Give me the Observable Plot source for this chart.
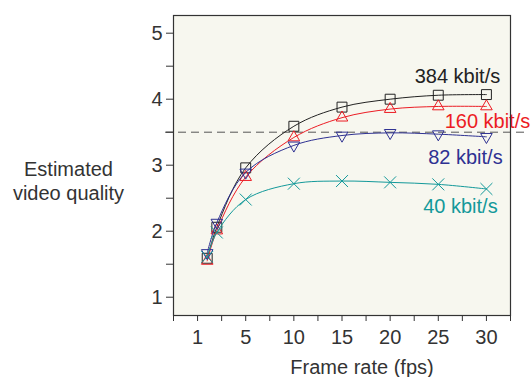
<!DOCTYPE html>
<html>
<head>
<meta charset="utf-8">
<script src="https://cdn.jsdelivr.net/npm/d3@7"></script>
<script src="https://cdn.jsdelivr.net/npm/@observablehq/plot@0.6"></script>
<style>
  html, body { margin: 0; padding: 0; background: #ffffff; }
</style>
</head>
<body>
<div id="chart"></div>
<script>
// ---- data ----
const fps = [1, 2, 5, 10, 15, 20, 25, 30];
const seriesNames = ["384 kbit/s", "160 kbit/s", "82 kbit/s", "40 kbit/s"];
const q384 = [1.59, 2.06, 2.96, 3.59, 3.88, 4.00, 4.06, 4.07];
const q160 = [1.55, 2.01, 2.82, 3.42, 3.72, 3.85, 3.89, 3.89];
const q82  = [1.67, 2.13, 2.89, 3.30, 3.45, 3.49, 3.47, 3.43];
const q40  = [1.61, 1.98, 2.48, 2.72, 2.76, 2.74, 2.71, 2.64];
const threshold = [3.5];
const xMajorTicks = [0, 5, 10, 15, 20, 25, 30];
const xMajorLabels = ["1", "5", "10", "15", "20", "25", "30"];
const xMinorTicks = [-2.5, 2.5, 7.5, 12.5, 17.5, 22.5, 27.5, 32.5];
const yMajorTicks = [1, 2, 3, 4, 5];
const yMinorTicks = [1.5, 2.5, 3.5, 4.5];
const xLabel = "Frame rate (fps)";
const yLabel = "Estimated\nvideo quality";

// ---- build table ----
const values = [q384, q160, q82, q40];
const rows = seriesNames.flatMap((name, i) =>
  fps.map((f, j) => ({fps: f, q: values[i][j], series: name}))
);

const colors  = ["#222222", "#ec1c24", "#2e3192", "#13999a"];
const symbols = ["square", "triangle", "triangle", "times"];
const rotates = [0, 0, 180, 0];
const radii   = [5.6, 4.3, 4.3, 5.5];
const labelOffsets = [[-29, -18], [1, 15], [-21, 21], [-26, 18]];

const FONT = "Liberation Sans, Arial, Helvetica, sans-serif";
const FS = 20;
const BG = "#f7f7ef";

const seriesMarks = seriesNames.flatMap((name, i) => {
  const d = rows.filter(r => r.series === name);
  const last = [d[d.length - 1]];
  return [
    Plot.line(d, {x: "fps", y: "q", stroke: colors[i], strokeWidth: 1, curve: "catmull-rom"}),
    Plot.dot(d, {x: "fps", y: "q", symbol: symbols[i], r: radii[i], rotate: rotates[i],
                 stroke: colors[i], fill: "none", strokeWidth: 1}),
    Plot.text(last, {x: "fps", y: "q", text: () => name, dx: labelOffsets[i][0], dy: labelOffsets[i][1],
                     fill: colors[i], fontSize: FS, textAnchor: "middle"})
  ];
});

const chart = Plot.plot({
  width: 531,
  height: 377,
  marginLeft: 173,
  marginRight: 21,
  marginTop: 15,
  marginBottom: 62,
  style: {fontFamily: FONT, fontSize: FS + "px", background: "#ffffff", color: "#333"},
  x: {domain: [-2.5, 32.5], axis: null},
  y: {domain: [0.723, 5.268], axis: null},
  marks: [
    Plot.frame({fill: BG, stroke: null}),
    Plot.ruleY(threshold, {stroke: "#555", strokeWidth: 1, strokeDasharray: "8,5", insetLeft: -8, insetRight: -17}),
    ...seriesMarks,
    Plot.axisX(xMinorTicks, {tickSize: 6, tickFormat: () => "", stroke: "#333", label: null}),
    Plot.axisX(xMajorTicks, {tickSize: 6, tickPadding: 8, fontSize: FS, fill: "#333", stroke: "#333",
                             tickFormat: (d) => xMajorLabels[xMajorTicks.indexOf(d)], label: null}),
    Plot.axisY(yMinorTicks, {tickSize: 7, tickFormat: () => "", stroke: "#333", label: null}),
    Plot.axisY(yMajorTicks, {tickSize: 7, tickPadding: 4, fontSize: FS, fill: "#333", stroke: "#333",
                             tickFormat: (d) => String(d), label: null}),
    Plot.frame({stroke: "#333", strokeWidth: 1.2}),
    Plot.text([xLabel], {text: d => d, frameAnchor: "bottom", lineAnchor: "middle", dx: 20, dy: 52,
                         fontSize: FS, fill: "#333"}),
    Plot.text([yLabel], {text: d => d, frameAnchor: "left", lineAnchor: "middle", dx: -105, dy: 15,
                         fontSize: FS, textAnchor: "middle", lineHeight: 1.2, fill: "#333"})
  ]
});

document.getElementById("chart").appendChild(chart);
</script>
</body>
</html>
